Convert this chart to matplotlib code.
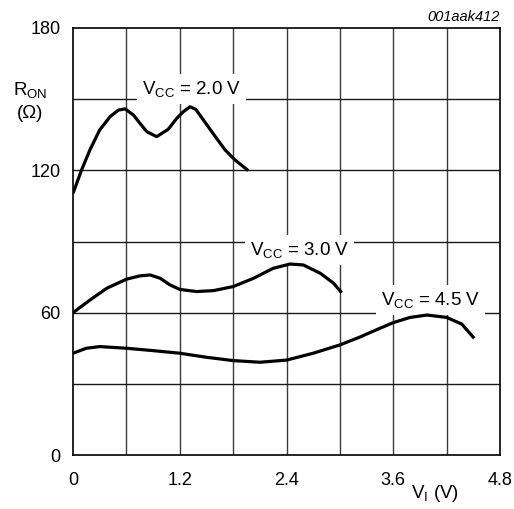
import matplotlib
matplotlib.use("Agg")
import matplotlib.pyplot as plt

plt.rcParams['font.family'] = ['Liberation Sans', 'DejaVu Sans']
plt.rcParams['mathtext.fontset'] = 'custom'
plt.rcParams['mathtext.rm'] = 'Liberation Sans'
plt.rcParams['mathtext.it'] = 'Liberation Sans:italic'

# V_CC = 2.0 V
x20 = [0.0, 0.097, 0.19, 0.30, 0.416, 0.51, 0.585, 0.68, 0.753, 0.83, 0.94, 1.07, 1.166, 1.24, 1.315, 1.38, 1.48, 1.60, 1.71, 1.82, 1.97]
y20 = [110.3, 120.2, 128.6, 137.0, 142.6, 145.4, 145.9, 143.3, 139.8, 136.3, 134.2, 137.3, 141.9, 144.7, 146.8, 145.7, 140.5, 134.2, 128.6, 124.4, 119.9]

# V_CC = 3.0 V
x30 = [0.0, 0.19, 0.38, 0.60, 0.75, 0.866, 0.98, 1.09, 1.20, 1.39, 1.58, 1.80, 2.03, 2.25, 2.44, 2.59, 2.78, 2.93, 3.02]
y30 = [60.0, 65.3, 70.3, 74.1, 75.5, 75.9, 74.5, 71.7, 69.8, 68.9, 69.3, 71.0, 74.5, 78.7, 80.5, 80.1, 76.6, 72.4, 68.4]

# V_CC = 4.5 V
x45 = [0.0, 0.15, 0.30, 0.60, 0.90, 1.20, 1.50, 1.80, 2.10, 2.40, 2.70, 3.00, 3.23, 3.40, 3.60, 3.79, 3.98, 4.20, 4.37, 4.51]
y45 = [42.9, 45.0, 45.7, 45.0, 44.0, 42.9, 41.2, 39.8, 39.1, 40.0, 42.9, 46.4, 49.8, 52.6, 55.8, 58.0, 59.0, 58.0, 55.2, 49.2]

xticks = [0, 1.2, 2.4, 3.6, 4.8]
xticklabels = ['0', '1.2', '2.4', '3.6', '4.8']
yticks = [0, 60, 120, 180]
yticklabels = ['0', '60', '120', '180']

fig = plt.figure(figsize=(5.14, 5.09), dpi=100)
ax = fig.add_axes([73/514, 1-455/509, 427/514, 427/509])
ax.set_xlim(0, 4.8)
ax.set_ylim(0, 180)

# grid
for gx in [0.6, 1.2, 1.8, 2.4, 3.0, 3.6, 4.2]:
    ax.axvline(gx, color='#3a3a3a', lw=1.0, zorder=1)
for gy in [30, 60, 90, 120, 150]:
    ax.axhline(gy, color='#1a1a1a', lw=1.0, zorder=1)

for xs, ys in [(x20, y20), (x30, y30), (x45, y45)]:
    ax.plot(xs, ys, color='black', lw=2.3, zorder=4, solid_joinstyle='round', solid_capstyle='butt')

box = dict(facecolor='white', edgecolor='none', pad=3.5)
fs = 13.5
ax.text(1.33, 154.3, r'V$_{\mathrm{CC}}$ = 2.0 V', fontsize=fs, ha='center', va='center', bbox=box, zorder=3)
ax.text(2.55, 86.3, r'V$_{\mathrm{CC}}$ = 3.0 V', fontsize=fs, ha='center', va='center', bbox=box, zorder=3)
ax.text(4.02, 65.3, r'V$_{\mathrm{CC}}$ = 4.5 V', fontsize=fs, ha='center', va='center', bbox=box, zorder=3)

ax.set_xticks(xticks)
ax.set_xticklabels(xticklabels)
ax.set_yticks(yticks)
ax.set_yticklabels(yticklabels)
ax.tick_params(length=0, labelsize=13, pad=9)
ax.tick_params(axis='x', pad=12)
for s in ax.spines.values():
    s.set_linewidth(1.2)
    s.set_zorder(5)

fig.text(30/514, 1-90/509, r'R$_{\mathrm{ON}}$', fontsize=fs, ha='center', va='center')
fig.text(30/514, 1-113/509, '(Ω)', fontsize=fs, ha='center', va='center')
fig.text(435/514, 1-493/509, r'V$_{\mathrm{I}}$ (V)', fontsize=fs, ha='center', va='center')
fig.text(500/514, 1-17/509, '001aak412', fontsize=10.5, ha='right', va='center', style='italic')

fig.savefig('out.png', dpi=100)
